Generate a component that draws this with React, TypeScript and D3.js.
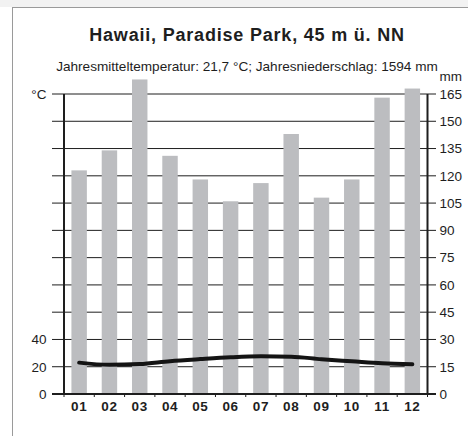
import React from "react";
import * as d3 from "d3";

const months = ["01", "02", "03", "04", "05", "06", "07", "08", "09", "10", "11", "12"];
const precipitation = [123, 134, 173, 131, 118, 106, 116, 143, 108, 118, 163, 168];
const temperature = [23.0, 21.4, 22.0, 24.1, 25.6, 26.9, 27.6, 27.4, 25.5, 24.0, 22.5, 21.8];
const mmTicks = [0, 15, 30, 45, 60, 75, 90, 105, 120, 135, 150, 165];
const tempTicks = [0, 20, 40];
const title = "Hawaii, Paradise Park, 45 m ü. NN";
const subtitle = "Jahresmitteltemperatur: 21,7 °C; Jahresniederschlag: 1594 mm";

const W = 468;
const H = 436;
const left = 64;
const right = 427.5;
const top = 94;
const bottom = 394;
const font = "'Liberation Sans', Arial, Helvetica, sans-serif";
const ink = "#1e1e1e";

export default function App() {
  const x = d3.scaleBand<string>().domain(months).range([left, right]).paddingInner(0.49).paddingOuter(0.245);
  const yMm = d3.scaleLinear().domain([0, 165]).range([bottom, top]);
  const yT = d3.scaleLinear().domain([0, 220]).range([bottom, top]);
  const line = d3
    .line<number>()
    .x((_, i) => (x(months[i]) as number) + x.bandwidth() / 2)
    .y((d) => yT(d))
    .curve(d3.curveMonotoneX);
  const step = x.step();

  return (
    <svg width={W} height={H} style={{ position: "absolute", left: 0, top: 0, background: "#fff" }} fontFamily={font}>
      <rect x={0} y={0} width={W} height={7} fill="#f2f2f2" />
      <rect x={12.5} y={7.5} width={600} height={600} fill="#fff" stroke="#9a9a9a" strokeWidth={1} />
      <text x={247} y={41} textAnchor="middle" fontSize={18} fontWeight="bold" letterSpacing={0.8} fill={ink}>
        {title}
      </text>
      <text x={247} y={70.5} textAnchor="middle" fontSize={13.6} fill={ink}>
        {subtitle}
      </text>
      {mmTicks.map((t) => (
        <line key={"g" + t} x1={52} x2={436} y1={yMm(t)} y2={yMm(t)} stroke={ink} strokeWidth={1} />
      ))}
      {months.map((m, i) => (
        <rect key={"b" + m} x={x(m)} width={x.bandwidth()} y={yMm(precipitation[i])} height={bottom - yMm(precipitation[i])} fill="#bcbdc0" />
      ))}
      {d3.range(13).map((i) => (
        <line key={"bt" + i} x1={left + i * step} x2={left + i * step} y1={bottom} y2={bottom + 3} stroke={ink} strokeWidth={1} />
      ))}
      <line x1={52} x2={436} y1={bottom} y2={bottom} stroke={ink} strokeWidth={2} />
      <line x1={left} x2={left} y1={top} y2={bottom + 1} stroke={ink} strokeWidth={2} />
      <line x1={right} x2={right} y1={top} y2={bottom + 1} stroke={ink} strokeWidth={2} />
      <path d={line(temperature) || ""} fill="none" stroke="#141414" strokeWidth={4} strokeLinecap="round" />
      {mmTicks.map((t) => (
        <text key={"r" + t} x={439.5} y={yMm(t)} dy="0.36em" fontSize={13.5} fill={ink}>
          {t}
        </text>
      ))}
      {tempTicks.map((t) => (
        <text key={"l" + t} x={46.5} y={yT(t)} dy="0.36em" textAnchor="end" fontSize={13.5} fill={ink}>
          {t}
        </text>
      ))}
      <text x={46.5} y={top} dy="0.36em" textAnchor="end" fontSize={13.5} fill={ink}>
        °C
      </text>
      <text x={439.5} y={81} fontSize={13.5} fill={ink}>
        mm
      </text>
      {months.map((m) => (
        <text key={"m" + m} x={(x(m) as number) + x.bandwidth() / 2} y={411} textAnchor="middle" fontSize={13.5} fontWeight="bold" letterSpacing={0.6} fill={ink}>
          {m}
        </text>
      ))}
    </svg>
  );
}
